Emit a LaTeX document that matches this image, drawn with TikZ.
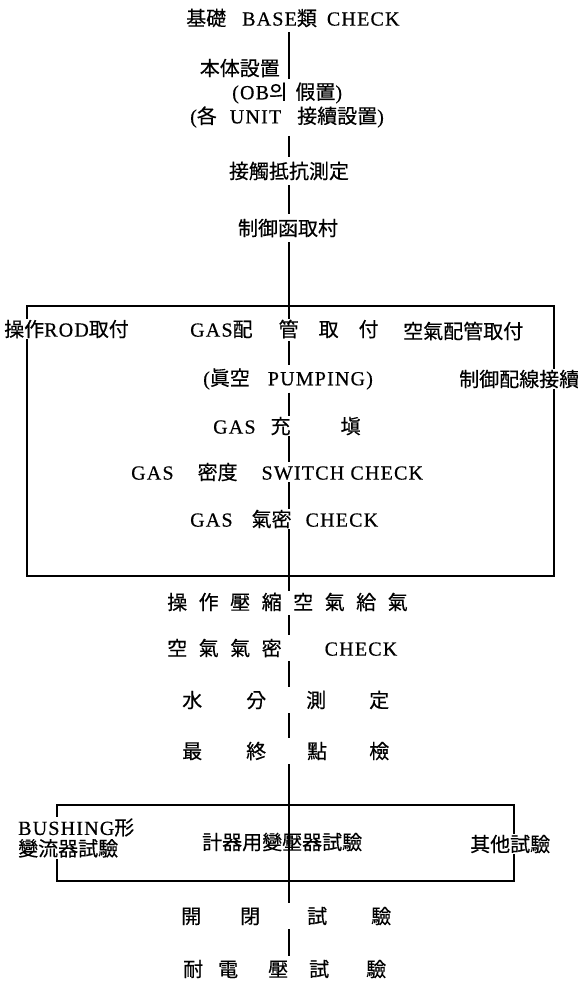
\documentclass[tikz,border=0pt]{standalone}
\usepackage{fontspec}
\setmainfont{Liberation Serif}[LetterSpace=6, FakeBold=0.4]
\newfontfamily\kr{Noto Sans CJK KR}[Scale=1.0, FakeBold=0.4]
\newcommand{\cj}[1]{{\kr #1}}
\begin{document}
\begin{tikzpicture}[x=1pt,y=-1pt,
  every node/.style={inner sep=0pt, font=\fontsize{20}{22}\selectfont},
  lab/.style={anchor=west},
  cover/.style={anchor=west, fill=white, inner sep=1pt},
  conn/.style={line width=1.1pt},
  frame/.style={line width=1.1pt}]
\useasboundingbox (0,0) rectangle (578,986);
\coordinate (ml) at (289,0);
% frames
\draw[frame] (27,306) rectangle (554,576);
\draw[frame] (57,805) rectangle (514,881);
% texts
\node[lab] (t0) at (186,18) {\cj{基礎}\hspace{16pt}BASE\cj{類}\hspace{10pt}CHECK};
\node[anchor=east] (honbu) at (280,68) {\cj{本体設置}};
\node[lab] (ob) at (232,93) {(OB\cj{의}\hspace{8pt}\cj{假置})};
\node[lab] (unit) at (190,117) {(\cj{各}\hspace{13pt}UNIT\hspace{16pt}\cj{接續設置})};
\node (sess) at (289,171) {\cj{接觸抵抗測定}};
\node (seig) at (288,228) {\cj{制御函取村}};
\node[cover] (rod) at (3,329) {\cj{操作}ROD\cj{取付}};
\node[lab] (gas1) at (190,329) {GAS\cj{配}\hspace{26pt}\cj{管}\hspace{20pt}\cj{取}\hspace{20pt}\cj{付}};
\node[lab] (kuhai) at (403,331) {\cj{空氣配管取付}};
\node[lab] (pump) at (203,379) {(\cj{眞空}\hspace{18pt}PUMPING)};
\node[cover] (seihai) at (458,379) {\cj{制御配線接續}};
\node[lab] (juten) at (213,426) {GAS\hspace{15pt}\cj{充}\hspace{50pt}\cj{塡}};
\node[lab] (mitsu) at (131,472) {GAS\hspace{24pt}\cj{密度}\hspace{24pt}SWITCH CHECK};
\node[lab] (kimi) at (190,519) {GAS\hspace{19pt}\cj{氣密}\hspace{14pt}CHECK};
\node[lab] (sousa) at (167,602) {\cj{操}\hspace{11.5pt}\cj{作}\hspace{11.5pt}\cj{壓}\hspace{11.5pt}\cj{縮}\hspace{11.5pt}\cj{空}\hspace{11.5pt}\cj{氣}\hspace{11.5pt}\cj{給}\hspace{11.5pt}\cj{氣}};
\node[lab] (kuuki) at (167,648) {\cj{空}\hspace{11.5pt}\cj{氣}\hspace{11.5pt}\cj{氣}\hspace{11.5pt}\cj{密}\hspace{43pt}CHECK};
\node[lab] (sui) at (182,700) {\cj{水}\hspace{44pt}\cj{分}\hspace{40pt}\cj{測}\hspace{43pt}\cj{定}};
\node[lab] (sai) at (182,751) {\cj{最}\hspace{44pt}\cj{終}\hspace{41pt}\cj{點}\hspace{42pt}\cj{檢}};
\node[cover, align=left] (bush) at (17,838) {BUSHING\cj{形}\\[-1pt]\cj{變流器試驗}};
\node[lab] (keiki) at (202,842) {\cj{計器用變壓器試驗}};
\node[cover] (sonota) at (469,844) {\cj{其他試驗}};
\node[lab] (kai) at (181,916) {\cj{開}\hspace{39pt}\cj{閉}\hspace{47pt}\cj{試}\hspace{44pt}\cj{驗}};
\node[lab] (tai) at (183,969) {\cj{耐}\hspace{15pt}\cj{電}\hspace{30pt}\cj{壓}\hspace{21pt}\cj{試}\hspace{37pt}\cj{驗}};
% main line
\draw[conn] ([yshift=-5pt]t0.south -| ml) -- ([yshift=3pt]ob.north -| ml);
\draw[conn] ([yshift=-8pt]unit.south -| ml) -- ([yshift=5pt]sess.north -| ml);
\draw[conn] ([yshift=-5pt]sess.south -| ml) -- ([yshift=5pt]seig.north -| ml);
\draw[conn] ([yshift=-5pt]seig.south -| ml) -- ([yshift=1pt]gas1.north -| ml);
\draw[conn] ([yshift=-3pt]gas1.south -| ml) -- ([yshift=3pt]pump.north -| ml);
\draw[conn] ([yshift=-3pt]pump.south -| ml) -- ([yshift=1pt]juten.north -| ml);
\draw[conn] ([yshift=-1pt]juten.south -| ml) -- ([yshift=1pt]mitsu.north -| ml);
\draw[conn] ([yshift=-1pt]mitsu.south -| ml) -- ([yshift=1pt]kimi.north -| ml);
\draw[conn] ([yshift=-1pt]kimi.south -| ml) -- ([yshift=2pt]sousa.north -| ml);
\draw[conn] ([yshift=-4pt]sousa.south -| ml) -- ([yshift=4pt]kuuki.north -| ml);
\draw[conn] ([yshift=-4pt]kuuki.south -| ml) -- ([yshift=4pt]sui.north -| ml);
\draw[conn] ([yshift=-4pt]sui.south -| ml) -- ([yshift=4pt]sai.north -| ml);
\draw[conn] ([yshift=-4pt]sai.south -| ml) -- ([yshift=4pt]kai.north -| ml);
\draw[conn] ([yshift=-4pt]kai.south -| ml) -- ([yshift=4pt]tai.north -| ml);
\end{tikzpicture}
\end{document}
